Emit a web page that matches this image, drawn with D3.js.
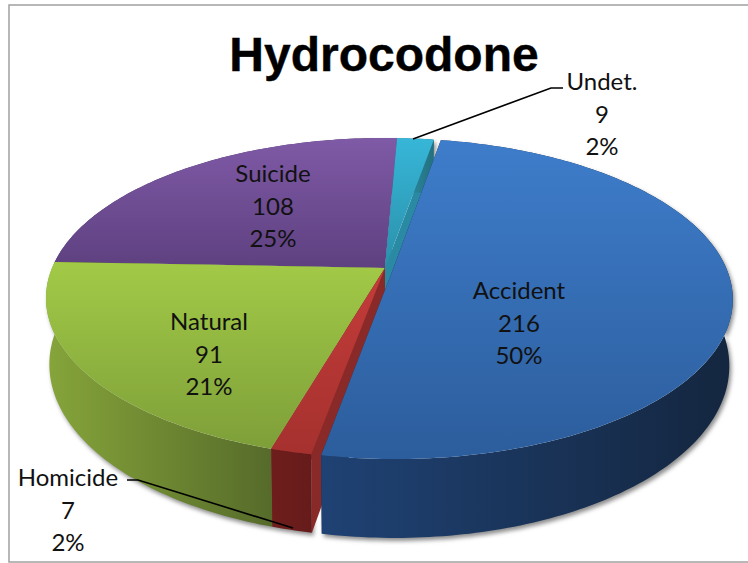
<!DOCTYPE html>
<html lang='en'>
<head>
<meta charset='utf-8'>
<script src='https://cdnjs.cloudflare.com/ajax/libs/d3/7.8.5/d3.min.js'></script>
<title>Hydrocodone</title>
<style>
html, body { margin:0; padding:0; background:white; overflow:hidden; }
svg { display:block; }
.lbl { font-family:Lato, 'Open Sans', sans-serif; font-size:24px; fill:#111; text-anchor:middle; }
.ttl { font-family:'Liberation Sans', Arial, sans-serif; font-size:48px; font-weight:bold; fill:black; stroke:black; stroke-width:0.4; text-anchor:middle; }
</style>
</head>
<body>
<script>
var categories = ['Accident', 'Homicide', 'Natural', 'Suicide', 'Undet.'];
var counts = [216, 7, 91, 108, 9];
var percents = ['50%', '2%', '21%', '25%', '2%'];

// style per category: top face gradient, wall gradient (left to right)
var topCols = [['#3e7dcb', '#2c5d9c'], ['#c43c3a', '#a5312e'], ['#a2ca47', '#7e9f39'], ['#7f5aa6', '#5e4080'], ['#37b6d8', '#2a90aa']];
var wallCols = [['#1f4274', '#14263f'], ['#6e1e1c', '#661b1a'], ['#86a53a', '#566b2a'], ['#4a3266', '#4a3266'], ['#2f93ad', '#23707f']];
var sideCols = ['#14263f', '#8a2a28', '#566b2a', '#4a3266', '#2b8aa3'];
var drawOrder = [3, 4, 2, 1, 0];
var explode = [0.025, 0, 0, 0, 0];

var labelAt = {
   'Accident': [519, 299],
   'Homicide': [68, 486],
   'Natural': [209, 330],
   'Suicide': [273, 182],
   'Undet.': [602, 90]
};
var lineGap = 32.5;

var W = 748, H = 563;
var cx = 385, cy = 268;
var bx = 333, ay = 154.4, persp = -0.1875, depth = 64, shrink = 0.99;

var svg = d3.select('body').append('svg').attr('width', W).attr('height', H);
var defs = svg.append('defs');

defs.append('filter').attr('id', 'blur').attr('x', '-5%').attr('y', '-5%').attr('width', '110%').attr('height', '110%')
   .append('feGaussianBlur').attr('stdDeviation', 2);

// circle coordinates to screen, with perspective towards the viewer
function proj(u, v, drop) {
   var w = 1 + persp * v;
   var k = drop ? shrink : 1;
   return [cx + k * bx * u / w, cy + (ay * v + (drop ? depth : 0)) / w];
}
function onCircle(a) { return [Math.sin(a), -Math.cos(a)]; }

var rot = 10 * Math.PI / 180;
var pie = d3.pie().sort(null).startAngle(rot).endAngle(rot + 2 * Math.PI);
var arcs = pie(counts);
var line = d3.line();

function gradient(id, cols, x1, y1, x2, y2) {
   var g = defs.append('linearGradient').attr('id', id).attr('gradientUnits', 'userSpaceOnUse')
      .attr('x1', x1).attr('y1', y1).attr('x2', x2).attr('y2', y2);
   g.append('stop').attr('offset', 0).attr('stop-color', cols[0]);
   g.append('stop').attr('offset', 1).attr('stop-color', cols[1]);
}

arcs.forEach(function(d, i) {
   var mid = (d.startAngle + d.endAngle) / 2;
   var off = onCircle(mid).map(function(c) { return c * explode[i]; });
   var n = Math.max(4, Math.ceil((d.endAngle - d.startAngle) * 60));
   var angles = d3.range(n + 1).map(function(k) { return d.startAngle + (d.endAngle - d.startAngle) * k / n; });
   var rim = angles.map(onCircle).map(function(p) { return [p[0] + off[0], p[1] + off[1]]; });
   d.tag = i;
   d.rimTop = rim.map(function(p) { return proj(p[0], p[1], false); });
   d.rimBot = rim.map(function(p) { return proj(p[0], p[1], true); });
   d.apexTop = proj(off[0], off[1], false);
   d.apexBot = proj(off[0], off[1], true);
   var ys = d.rimTop.map(function(p) { return p[1]; }).concat([d.apexTop[1]]);
   var xs = d.rimTop.map(function(p) { return p[0]; });
   gradient('top' + i, topCols[i], 0, d3.min(ys), 0, d3.max(ys));
   gradient('wall' + i, wallCols[i], d3.min(xs), 0, d3.max(xs), 0);
});

// page frame, right side runs off the picture
svg.append('rect').attr('x', 9).attr('y', 5).attr('width', 800).attr('height', 557)
   .style('fill', 'white').style('stroke', '#a0a0a0').style('stroke-width', 1.5);

function wallPath(d) { return line(d.rimTop.concat(d.rimBot.slice().reverse())) + 'Z'; }

// soft shadow under the walls
svg.append('g').attr('transform', 'translate(2,3)').attr('filter', 'url(#blur)')
   .selectAll('path').data(arcs).enter().append('path')
   .attr('d', wallPath).style('fill', '#8c8c8c');

var ordered = drawOrder.map(function(i) { return arcs[i]; });
var slices = svg.append('g').selectAll('g').data(ordered).enter().append('g');

// radial side walls
slices.append('path')
   .attr('d', function(d) {
      var a = d.rimTop[d.rimTop.length - 1], b = d.rimBot[d.rimBot.length - 1];
      return line([d.apexTop, a, b, d.apexBot]) + 'Z';
   })
   .style('fill', function(d) { return sideCols[d.tag]; });
slices.append('path')
   .attr('d', function(d) { return line([d.apexTop, d.rimTop[0], d.rimBot[0], d.apexBot]) + 'Z'; })
   .style('fill', function(d) { return sideCols[d.tag]; });
// outer wall
slices.append('path')
   .attr('d', wallPath)
   .style('fill', function(d) { return 'url(#wall' + d.tag + ')'; });
// top face
slices.append('path')
   .attr('d', function(d) { return line([d.apexTop].concat(d.rimTop)) + 'Z'; })
   .style('fill', function(d) { return 'url(#top' + d.tag + ')'; });

// leader lines
var leaders = [
   [[413, 139], [551, 88], [563, 88]],
   [[127, 480], [138, 480], [293, 528]]
];
svg.append('g').selectAll('path').data(leaders).enter().append('path')
   .attr('d', function(d) { return line(d); })
   .style('fill', 'none').style('stroke', 'black').style('stroke-width', 1.6);

svg.append('text').attr('class', 'ttl').attr('x', 384).attr('y', 71).text('Hydrocodone');

categories.forEach(function(name, i) {
   var at = labelAt[name];
   var t = svg.append('text').attr('class', 'lbl');
   [name, String(counts[i]), percents[i]].forEach(function(s, k) {
      t.append('tspan').attr('x', at[0]).attr('y', at[1] + k * lineGap).text(s);
   });
});
</script>
</body>
</html>
